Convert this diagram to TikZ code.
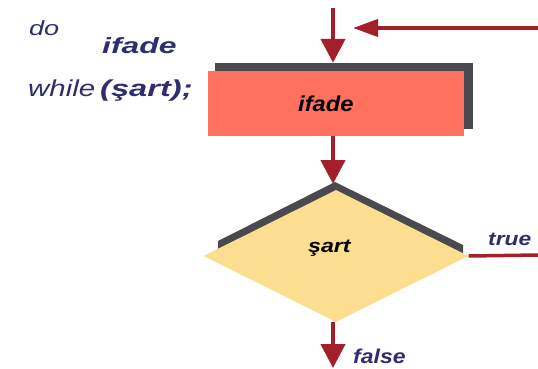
\documentclass[tikz,border=0pt]{standalone}
\usepackage{fontspec}
\setmainfont{Liberation Sans}
\usetikzlibrary{arrows.meta,shapes.geometric}
\definecolor{arrred}{RGB}{163,32,42}
\definecolor{navy}{RGB}{46,46,110}
\definecolor{salmon}{RGB}{255,113,95}
\definecolor{shadowgray}{RGB}{74,74,78}
\definecolor{paleyellow}{RGB}{252,222,145}
\newcommand\stx[2]{\scalebox{#1}[1]{#2}}
\tikzset{
  txt/.style={inner sep=0pt, anchor=base west},
  flow/.style={draw=arrred, line width=4.5pt, -{Triangle[width=24pt,length=24pt]}},
  loopback/.style={draw=arrred, line width=4pt, -{Triangle[width=17pt,length=25pt]}},
  plainline/.style={draw=arrred, line width=3.5pt},
}
\begin{document}
\begin{tikzpicture}[x=1pt,y=-1pt]
\useasboundingbox (0,0) rectangle (538,369);
% code text
\node[txt, text=navy] (kdo) at (29,36) {\fontsize{20.5}{20.5}\selectfont\itshape\stx{1.32}{do}};
\node[txt, text=navy] (kifade) at (102,53) {\fontsize{22}{22}\selectfont\bfseries\itshape\stx{1.45}{ifade}};
\node[txt, text=navy] (kwhile) at (28,96) {\fontsize{23}{23}\selectfont\itshape\stx{1.28}{while}};
\node[txt, text=navy] (kcond) at (100,96) {\fontsize{23}{23}\selectfont\bfseries\itshape\stx{1.42}{(şart);}};
% statement box
\node[fill=shadowgray, minimum width=258pt, minimum height=66pt, inner sep=0pt] (stmtshadow) at (344,96) {};
\node[fill=salmon, minimum width=256pt, minimum height=65pt, inner sep=0pt] (stmt) at (336,103.5) {};
\node[txt] (stmttext) at (298,111) {\fontsize{21.5}{21.5}\selectfont\bfseries\itshape\stx{1.1}{ifade}};
% decision
\fill[shadowgray] (218,241) -- (335,182) -- (463,245) -- (463,254) -- (335,195) -- (218,252) -- cycle;
\node[diamond, fill=paleyellow, minimum width=265pt, minimum height=132pt, inner sep=0pt] (cond) at (336,256) {};
\node[txt] (condtext) at (308,252) {\fontsize{19}{19}\selectfont\bfseries\itshape\stx{1.22}{şart}};
% connectors
\coordinate (topstart) at (333,8);
\coordinate (loopstart) at (538,28);
\coordinate (loopend) at (353,28);
\coordinate (condtop) at (333,184);
\coordinate (exitend) at (333,368);
\coordinate (trueend) at (538,255);
\draw[flow] (topstart) -- (topstart |- stmtshadow.north);
\draw[loopback] (loopstart) -- (loopend);
\draw[flow] (topstart |- stmt.south) -- (condtop);
\draw[flow] (topstart |- cond.south) -- (exitend);
\draw[plainline] (cond.east) -- (trueend);
% labels
\node[txt, text=navy] (truelbl) at (488,245) {\fontsize{19}{19}\selectfont\bfseries\itshape\stx{1.2}{true}};
\node[txt, text=navy] (falselbl) at (353,363) {\fontsize{20}{20}\selectfont\bfseries\itshape\stx{1.15}{false}};
\end{tikzpicture}
\end{document}
